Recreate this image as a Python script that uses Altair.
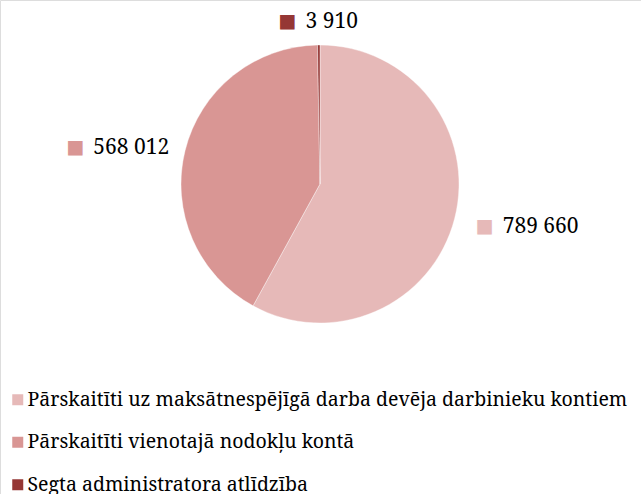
import altair as alt
import pandas as pd

categories = [
    "Pārskaitīti uz maksātnespējīgā darba devēja darbinieku kontiem",
    "Pārskaitīti vienotajā nodokļu kontā",
    "Segta administratora atlīdzība",
]
values = [789660, 568012, 3910]
labels = ["789 660", "568 012", "3 910"]
colors = ["#E6B9B8", "#D99694", "#953735"]

df = pd.DataFrame({"cat": categories, "value": values, "label": labels, "idx": [0, 1, 2]})

CX, CY, R = 320, 184, 139
FONT = "Noto Serif"

color_scale = alt.Scale(domain=categories, range=colors)

pie = alt.Chart(df).mark_arc(radius=R, stroke="#ffffff", strokeWidth=0.4).encode(
    theta=alt.Theta("value:Q", stack=True),
    order=alt.Order("idx:Q"),
    color=alt.Color(
        "cat:N",
        scale=color_scale,
        sort=categories,
        legend=alt.Legend(
            title=None,
            orient="none",
            legendX=8,
            legendY=390,
            symbolType="square",
            symbolSize=121,
            symbolStrokeWidth=0,
            labelFont=FONT,
            labelFontSize=19.5,
            labelColor="#000000",
            labelLimit=800,
            labelOffset=0,
            rowPadding=21.5,
            padding=0,
        ),
    ),
    x=alt.value(CX),
    y=alt.value(CY),
)

label_r = {0: 170, 1: 252, 2: 163}
label_dx = {0: 0, 1: 0, 2: -31}
label_dy = {0: 0, 1: 23, 2: 0}

def base_labels():
    return (
        alt.Chart(df)
        .transform_joinaggregate(total="sum(value)")
        .transform_window(cum="sum(value)", sort=[alt.SortField("idx")], frame=[None, 0])
        .transform_calculate(mid="(datum.cum - datum.value/2) / datum.total * 2 * PI")
    )

layers = [pie]
for i in range(3):
    b = base_labels().transform_filter(alt.datum.idx == i)
    sq = b.mark_text(
        text="■", font="DejaVu Sans", fontSize=19, align="center", baseline="middle",
        radius=label_r[i], dx=label_dx[i], dy=label_dy[i],
    ).encode(
        theta=alt.Theta("mid:Q", scale=None, stack=None),
        color=alt.Color("cat:N", scale=color_scale, legend=None),
        x=alt.value(CX),
        y=alt.value(CY),
    )
    tx = b.mark_text(
        font=FONT, fontSize=21, align="left", baseline="middle", color="#000000",
        radius=label_r[i], dx=label_dx[i] + 18, dy=label_dy[i] + 1,
    ).encode(
        theta=alt.Theta("mid:Q", scale=None, stack=None),
        text="label:N",
        x=alt.value(CX),
        y=alt.value(CY),
    )
    layers += [sq, tx]

chart = (
    alt.layer(*layers)
    .properties(width=641, height=494, autosize=alt.AutoSizeParams(type="none"), padding=0)
    .configure_view(stroke=None)
    .configure(background="#ffffff")
)

chart.save("out.html", embed_options={"renderer": "svg", "actions": False})
